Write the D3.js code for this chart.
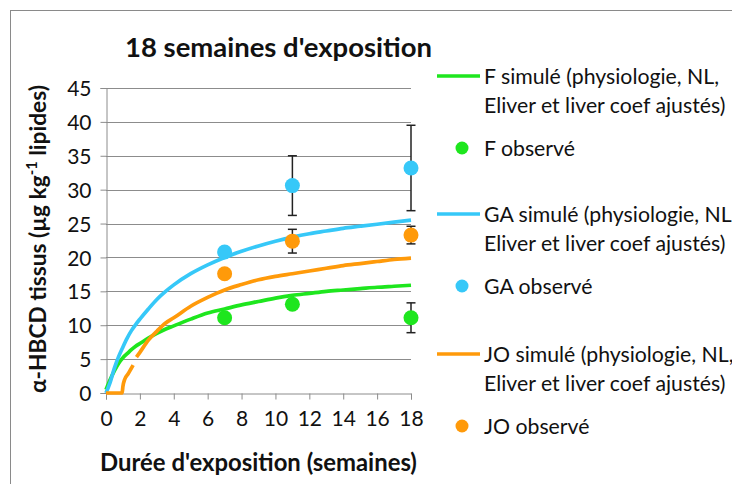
<!DOCTYPE html>
<html>
<head>
<meta charset="utf-8">
<script src="https://cdn.jsdelivr.net/npm/d3@7/dist/d3.min.js"></script>
<style>
  html, body { margin: 0; padding: 0; background: #fff; }
  svg { display: block; font-family: Lato, "Open Sans", sans-serif; }
</style>
</head>
<body>
<svg id="chart" width="732" height="484"></svg>
<script>
// ---- Data ----
const title = "18 semaines d'exposition";
const xTicks = [0, 2, 4, 6, 8, 10, 12, 14, 16, 18];
const yTicks = [0, 5, 10, 15, 20, 25, 30, 35, 40, 45];

const timeSim = [0, 0.25, 0.5, 0.75, 1, 1.25, 1.5, 1.75, 2, 2.5, 3, 3.5, 4, 5, 6, 7, 8, 9, 10, 11, 12, 13, 14, 15, 16, 17, 18];
const fSim  = [0.5, 2.0, 3.3, 4.4, 5.2, 5.8, 6.4, 6.9, 7.3, 8.1, 8.8, 9.4, 9.9, 10.9, 11.8, 12.4, 13.0, 13.5, 14.0, 14.4, 14.7, 15.0, 15.2, 15.4, 15.6, 15.75, 15.9];
const gaSim = [0, 1.6, 3.7, 5.4, 6.8, 8.1, 9.2, 10.1, 10.9, 12.4, 13.8, 14.95, 15.95, 17.6, 18.9, 20.0, 20.9, 21.7, 22.4, 23.0, 23.5, 23.9, 24.3, 24.6, 24.9, 25.2, 25.5];

const timeJO = [0, 0.5, 0.95, 1.0, 1.1, 1.3, 1.6, 1.7, 1.8, 2, 2.5, 3, 3.5, 4, 5, 6, 7, 8, 9, 10, 11, 12, 13, 14, 15, 16, 17, 18];
const joSim  = [0, 0, 0, 1.0, 2.0, 2.8, 4.1, null, 5.3, 6.0, 7.8, 9.1, 10.3, 11.1, 12.8, 14.1, 15.2, 16.0, 16.7, 17.2, 17.6, 18.0, 18.4, 18.8, 19.1, 19.4, 19.7, 19.9];

const timeObs = [7, 11, 18];
const fObs  = [11.1, 13.1, 11.1];
const fErr  = [0, 0, 2.2];
const gaObs = [20.8, 30.6, 33.2];
const gaErr = [0, 4.4, 6.3];
const joObs = [17.6, 22.4, 23.3];
const joErr = [0, 1.75, 1.3];

const seriesNames = [
  ["F simulé (physiologie, NL,", "Eliver et liver coef ajustés)"],
  ["F observé"],
  ["GA simulé (physiologie, NL,", "Eliver et liver coef ajustés)"],
  ["GA observé"],
  ["JO simulé (physiologie, NL,", "Eliver et liver coef ajustés)"],
  ["JO observé"]
];
const colors = { F: "#1ee61e", GA: "#36c8f8", JO: "#ff9a0a" };

// ---- Chart ----
const svg = d3.select("#chart");
const x = d3.scaleLinear().domain([0, 18]).range([106, 411]);
const y = d3.scaleLinear().domain([0, 45]).range([393, 88]);

// scale a text's font size so that its width matches a target
function fitWidth(sel, target) {
  const fs = +sel.attr("font-size");
  const w = sel.node().getBBox().width;
  if (w > 0) sel.attr("font-size", (fs * target / w).toFixed(2));
  return +sel.attr("font-size");
}

// border
svg.append("rect").attr("x", 10.5).attr("y", 10.5).attr("width", 740).attr("height", 500)
  .attr("fill", "none").attr("stroke", "#8a8a8a").attr("stroke-width", 1);

// gridlines
svg.append("g").selectAll("line").data(yTicks.filter(d => d > 0)).join("line")
  .attr("x1", x(0)).attr("x2", x(18))
  .attr("y1", d => Math.round(y(d)) + 0.5).attr("y2", d => Math.round(y(d)) + 0.5)
  .attr("stroke", "#8c8c8c").attr("stroke-width", 1);

// axes
const yAxis = d3.axisLeft(y).tickValues(yTicks).tickSize(6).tickPadding(9);
const gy = svg.append("g").attr("transform", `translate(${Math.round(x(0)) + 0.5},0)`).call(yAxis);
const xAxis = d3.axisBottom(x).tickValues(xTicks).tickSize(6).tickPadding(12);
const gx = svg.append("g").attr("transform", `translate(0,${Math.round(y(0)) + 0.5})`).call(xAxis);
[gx, gy].forEach(g => {
  g.select(".domain").attr("stroke", "#8c8c8c");
  g.selectAll(".tick line").attr("stroke", "#8c8c8c");
  g.selectAll(".tick text").attr("font-family", "Lato, sans-serif").attr("font-size", 21).attr("fill", "#111");
});
gy.selectAll(".tick text").attr("dy", "0.36em");
gx.selectAll(".tick text").attr("dy", "0.7em");

// lines
const mkLine = () => d3.line()
  .defined(d => d[1] !== null)
  .x(d => x(d[0])).y(d => y(d[1]))
  .curve(d3.curveMonotoneX);

function drawLine(ts, vs, color) {
  svg.append("path").datum(ts.map((t, i) => [t, vs[i]]))
    .attr("d", mkLine())
    .attr("fill", "none").attr("stroke", color).attr("stroke-width", 3.7)
    .attr("stroke-linejoin", "round").attr("stroke-linecap", "butt");
}
drawLine(timeSim, fSim, colors.F);
drawLine(timeSim, gaSim, colors.GA);
drawLine(timeJO, joSim, colors.JO);

// observed with error bars
function drawObs(vals, errs, color) {
  const g = svg.append("g");
  timeObs.forEach((t, i) => {
    if (errs[i] > 0) {
      const cx = x(t), y1 = y(vals[i] + errs[i]), y2 = y(vals[i] - errs[i]);
      g.append("line").attr("x1", cx).attr("x2", cx).attr("y1", y1).attr("y2", y2)
        .attr("stroke", "#222").attr("stroke-width", 1.5);
      [y1, y2].forEach(yy => g.append("line").attr("x1", cx - 4.5).attr("x2", cx + 4.5)
        .attr("y1", yy).attr("y2", yy).attr("stroke", "#222").attr("stroke-width", 1.5));
    }
  });
  timeObs.forEach((t, i) => {
    g.append("circle").attr("cx", x(t)).attr("cy", y(vals[i])).attr("r", 7.5).attr("fill", color);
  });
}
drawObs(fObs, fErr, colors.F);
drawObs(gaObs, gaErr, colors.GA);
drawObs(joObs, joErr, colors.JO);

// title
const tt = svg.append("text").attr("x", 278.5).attr("y", 47).attr("dy", "0.36em").attr("text-anchor", "middle")
  .attr("font-weight", "bold").attr("font-size", 24).attr("fill", "#111").text(title);
fitWidth(tt, 307);

// axis titles
const xl = svg.append("text").attr("x", 258.5).attr("y", 462).attr("dy", "0.36em").attr("text-anchor", "middle")
  .attr("font-weight", "bold").attr("font-size", 20).attr("fill", "#111")
  .text("Durée d'exposition (semaines)");
fitWidth(xl, 317);

const yl = svg.append("text").attr("transform", "translate(38,239) rotate(-90)").attr("dy", "0.36em")
  .attr("text-anchor", "middle").attr("font-weight", "bold").attr("font-size", 20).attr("fill", "#111");
yl.append("tspan").text("α-HBCD tissus (µg kg");
const sup = yl.append("tspan").attr("font-size", 13).attr("dy", -8).text("-1");
yl.append("tspan").attr("dy", 8).text(" lipides)");
{
  const w = yl.node().getBBox().width;
  const f = 308 / w;
  yl.attr("font-size", (20 * f).toFixed(2));
  sup.attr("font-size", (13 * f).toFixed(2)).attr("dy", (-8 * f).toFixed(2));
  yl.select("tspan:last-child").attr("dy", (8 * f).toFixed(2));
}

// legend
const legendY = [76, 148, 214, 286, 354, 426];
const legendKind = ["line", "dot", "line", "dot", "line", "dot"];
const legendColor = [colors.F, colors.F, colors.GA, colors.GA, colors.JO, colors.JO];
const lg = svg.append("g");
const probe = lg.append("text").attr("font-size", 20).text(seriesNames[0][0]);
const legendFont = fitWidth(probe, 235);
probe.remove();
seriesNames.forEach((lines, i) => {
  const cy = legendY[i];
  if (legendKind[i] === "line") {
    lg.append("line").attr("x1", 437).attr("x2", 480).attr("y1", cy).attr("y2", cy)
      .attr("stroke", legendColor[i]).attr("stroke-width", 3.7);
  } else {
    lg.append("circle").attr("cx", 462).attr("cy", cy).attr("r", 6.5).attr("fill", legendColor[i]);
  }
  lines.forEach((s, j) => {
    lg.append("text").attr("x", 484).attr("y", cy + j * 29).attr("dy", "0.36em")
      .attr("font-size", legendFont).attr("fill", "#111").text(s);
  });
});
</script>
</body>
</html>
